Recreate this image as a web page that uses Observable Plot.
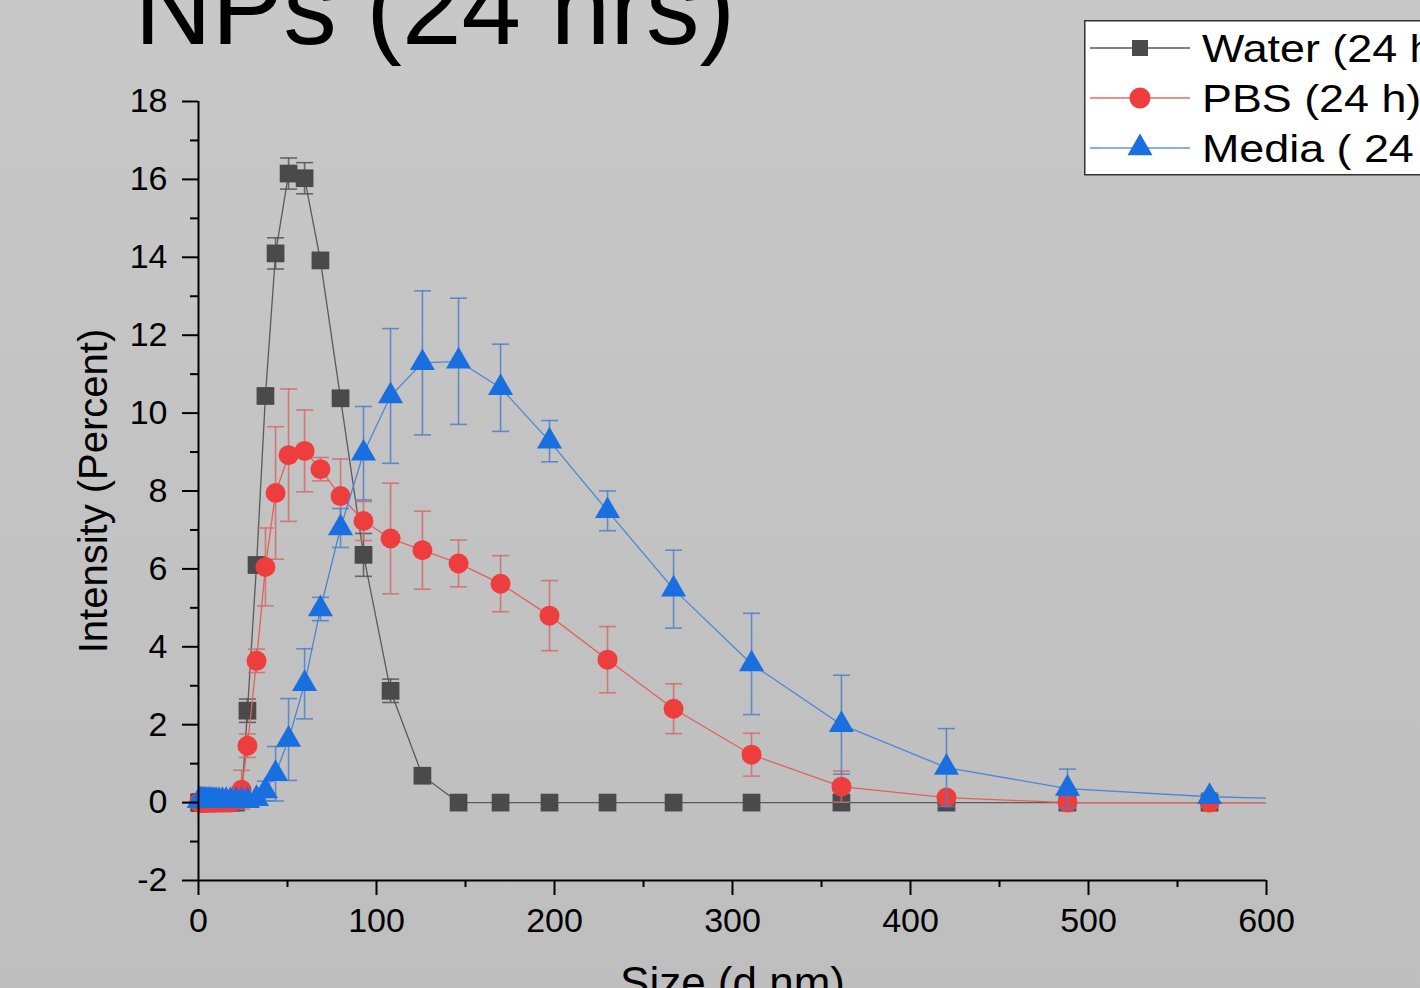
<!DOCTYPE html>
<html>
<head>
<meta charset="utf-8">
<script src="https://cdn.jsdelivr.net/npm/d3@7"></script>
<script src="https://cdn.jsdelivr.net/npm/@observablehq/plot@0.6"></script>
<style>
  html, body { margin: 0; padding: 0; width: 1420px; height: 988px; overflow: hidden;
    background: linear-gradient(#c8c8c8, #bebebe); font-family: "Liberation Sans", Arial, sans-serif; }
  #chart { position: absolute; left: 0; top: 0; }
  #legend { position: absolute; left: 1084px; top: 20px; }
</style>
</head>
<body>
<div id="chart"></div>
<div id="legend"></div>
<script>
// ---- data ----
const sizes = [0.4,0.6,0.8,1.0,1.3,1.6,2.0,2.5,3.0,3.5,4.1,4.7,5.5,6.4,7.4,8.6,9.9,11.5,13.4,15.5,18.0,21.0,
  24.2,27.5,32.6,37.6,43.3,50.6,59.6,68.5,79.8,92.7,107.9,125.8,146.1,169.7,197.2,229.8,266.9,310.7,361.2,420.2,488.2,568.0,660];

const water = [0,0,0,0,0,0,0,0,0,0,0,0,0,0,0,0,0,0,0,0,0,0,
  0.1,2.36,6.1,10.44,14.1,16.15,16.03,13.92,10.38,6.36,2.87,0.69,0,0,0,0,0,0,0,0,0,0,0];
const waterErr = [0,0,0,0,0,0,0,0,0,0,0,0,0,0,0,0,0,0,0,0,0,0,
  0.05,0.3,0.2,0.15,0.4,0.4,0.4,0.1,0.15,0.55,0.3,0.1,0,0,0,0,0,0,0,0,0,0,0];

const pbs = [0,0,0,0,0,0,0,0,0,0,0,0,0,0,0,0,0,0,0,0,0,0.05,
  0.33,1.46,3.64,6.05,7.95,8.92,9.03,8.56,7.87,7.23,6.78,6.48,6.14,5.62,4.80,3.67,2.41,1.23,0.41,0.13,0,0,0];
const pbsErr = [0,0,0,0,0,0,0,0,0,0,0,0,0,0,0,0,0,0,0,0,0,0.1,
  0.5,0.3,0.3,1.0,1.7,1.7,1.05,0.3,0.95,0.5,1.42,1.0,0.6,0.72,0.9,0.85,0.64,0.55,0.4,0.1,0,0,0];

const media = [0.05,0.05,0.05,0.05,0.05,0.05,0.05,0.05,0.05,0.05,0.05,0.05,0.05,0.05,0.05,0.05,0.05,0.05,0.05,0.05,0.05,0.05,
  0.05,0.05,0.1,0.3,0.74,1.62,3.05,4.97,7.05,8.97,10.44,11.29,11.33,10.65,9.28,7.49,5.48,3.56,2.0,0.9,0.36,0.15,0.05];
const mediaErr = [0,0,0,0,0,0,0,0,0,0,0,0,0,0,0,0,0,0,0,0,0,0,
  0.05,0.1,0.1,0.25,0.7,1.05,0.9,0.3,0.5,1.2,1.73,1.85,1.62,1.12,0.53,0.51,1.0,1.3,1.27,1.0,0.5,0.1,0];

const xTicks = [0,100,200,300,400,500,600];
const xMinor = [50,150,250,350,450,550];
const yTicks = [-2,0,2,4,6,8,10,12,14,16,18];
const yMinor = [-1,1,3,5,7,9,11,13,15,17];

const seriesNames = ["Water (24 h)", "PBS (24 h)", "Media ( 24 h)"];

// ---- styles ----
const series = [
  {key: "water", vals: water, err: waterErr, symbol: "square", r: 10, fill: "#4a4a4a", line: "#5a5a5a", bar: "#555555"},
  {key: "pbs", vals: pbs, err: pbsErr, symbol: "circle", r: 10, fill: "#ee3d3d", line: "#e2605f", bar: "#d46a6a"},
  {key: "media", vals: media, err: mediaErr, symbol: "triangle", r: 9.3, fill: "#1a6fe0", line: "#4d86d8", bar: "#4f7fc9"}
];

const capSymbol = {draw(context, size) { const w = Math.sqrt(size / Math.PI); context.moveTo(-w, 0); context.lineTo(w, 0); }};

const marks = [];
for (const s of series) {
  const rows = sizes.map((x, i) => ({x, v: s.vals[i], e: s.err[i]}));
  const inside = rows.filter(d => d.x <= 600);
  const withErr = inside.filter(d => d.e > 0);
  marks.push(Plot.line(rows, {x: "x", y: "v", stroke: s.line, strokeWidth: 1.3, clip: true}));
  marks.push(Plot.ruleX(withErr, {x: "x", y1: d => d.v - d.e, y2: d => d.v + d.e, stroke: s.bar, strokeWidth: 1.6, strokeOpacity: 0.85}));
  marks.push(Plot.dot(withErr, {x: "x", y: d => d.v + d.e, symbol: capSymbol, r: 8.5, stroke: s.bar, strokeWidth: 1.6, strokeOpacity: 0.85, fill: "none"}));
  marks.push(Plot.dot(withErr, {x: "x", y: d => d.v - d.e, symbol: capSymbol, r: 8.5, stroke: s.bar, strokeWidth: 1.6, strokeOpacity: 0.85, fill: "none"}));
  marks.push(Plot.dot(inside, {x: "x", y: "v", symbol: s.symbol, r: s.r, fill: s.fill, stroke: "none"}));
}

const chart = Plot.plot({
  width: 1420,
  height: 988,
  marginLeft: 198,
  marginRight: 154,
  marginTop: 101,
  marginBottom: 108,
  style: {background: "transparent", fontFamily: "Liberation Sans, Arial, sans-serif", color: "black", overflow: "visible"},
  x: {domain: [0, 600]},
  y: {domain: [-2, 18]},
  marks: [
    ...marks,
    Plot.ruleX([0], {stroke: "black", strokeWidth: 2}),
    Plot.ruleY([-2], {stroke: "black", strokeWidth: 2}),
    Plot.axisY({ticks: yTicks, tickSize: 16, tickPadding: 15, fontSize: 34, strokeWidth: 2, stroke: "black", fill: "black", tickFormat: d => String(d), label: null}),
    Plot.axisY({ticks: yMinor, tickSize: 8, strokeWidth: 2, stroke: "black", tickFormat: () => "", label: null}),
    Plot.axisX({ticks: xTicks, tickSize: 15, tickPadding: 12, fontSize: 34, strokeWidth: 2, stroke: "black", fill: "black", tickFormat: d => String(d), label: null}),
    Plot.axisX({ticks: xMinor, tickSize: 7, strokeWidth: 2, stroke: "black", tickFormat: () => "", label: null}),
    Plot.text(["Intensity (Percent)"], {frameAnchor: "left", textAnchor: "middle", rotate: -90, dx: -104, fontSize: 40, fill: "black"}),
    Plot.text(["Size (d.nm)"], {frameAnchor: "bottom", textAnchor: "middle", lineAnchor: "top", dy: 86, fontSize: 44, fill: "black"}),
    Plot.text(["NPs (24 hrs)"], {frameAnchor: "top-left", textAnchor: "start", lineAnchor: "bottom", dx: -64, dy: -58, fontSize: 107, fill: "black"})
  ]
});
document.getElementById("chart").appendChild(chart);

// ---- legend ----
const lg = d3.select("#legend").append("svg").attr("width", 360).attr("height", 160).style("overflow", "visible");
lg.append("rect").attr("x", 0.75).attr("y", 0.75).attr("width", 400).attr("height", 154)
  .attr("fill", "white").attr("stroke", "#333").attr("stroke-width", 1.5);
const legendStyle = [
  {line: "#555555", fill: "#4a4a4a", sym: d3.symbolSquare, size: 256},
  {line: "#e86a6a", fill: "#ee3d3d", sym: d3.symbolCircle, size: 346},
  {line: "#5b95e6", fill: "#1a6fe0", sym: d3.symbolTriangle, size: 270}
];
seriesNames.forEach((name, i) => {
  const cy = 28 + i * 50;
  const st = legendStyle[i];
  lg.append("line").attr("x1", 6).attr("x2", 106).attr("y1", cy).attr("y2", cy).attr("stroke", st.line).attr("stroke-width", 1.3);
  lg.append("path").attr("d", d3.symbol(st.sym, st.size)()).attr("transform", `translate(56,${cy})`).attr("fill", st.fill);
  lg.append("text").attr("transform", `translate(118,${cy + 14}) scale(1.18,1)`).attr("font-size", 38)
    .attr("font-family", "Liberation Sans, Arial, sans-serif").attr("fill", "black").text(name);
});
</script>
</body>
</html>
